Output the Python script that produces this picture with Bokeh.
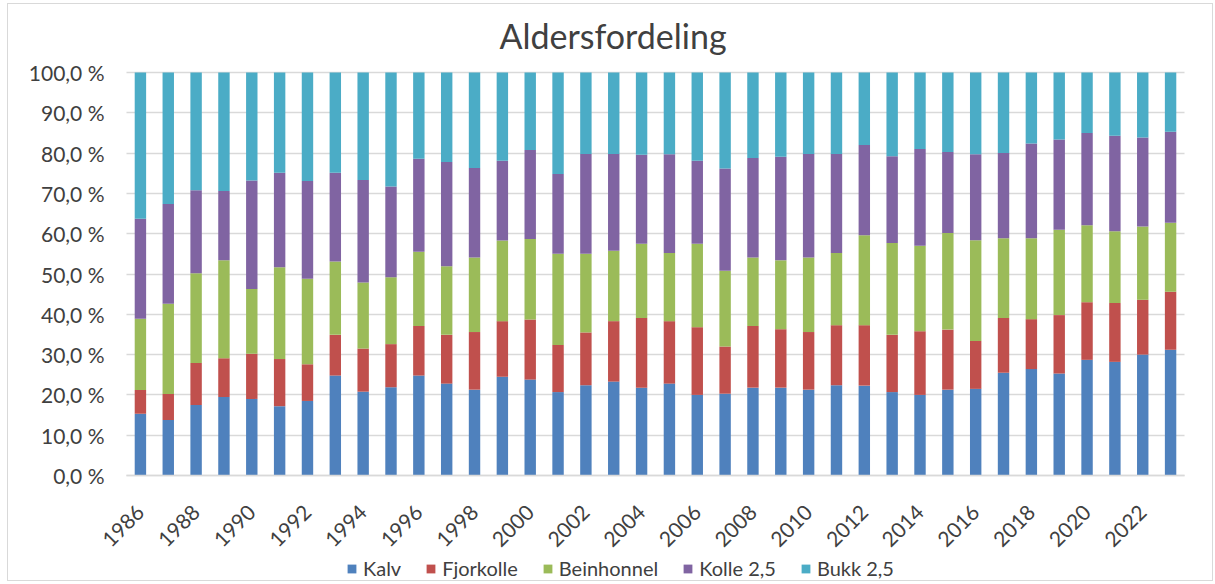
import math
from bokeh.plotting import figure
from bokeh.models import Range1d, FixedTicker, Legend, LegendItem, ColumnDataSource, Label
from bokeh.embed import file_html
from bokeh.resources import INLINE

years = list(range(1986, 2024))
series_names = ["Kalv", "Fjorkolle", "Beinhonnel", "Kolle 2,5", "Bukk 2,5"]
colors = ["#4F81BD", "#C0504D", "#9BBB59", "#8064A2", "#4BACC6"]

kalv = [15.3, 13.8, 17.5, 19.5, 19.0, 17.2, 18.5, 24.8, 20.8, 21.9,
        24.8, 22.8, 21.3, 24.5, 23.8, 20.7, 22.4, 23.3, 21.8, 22.8,
        20.0, 20.3, 21.8, 21.8, 21.3, 22.4, 22.3, 20.7, 20.0, 21.3,
        21.5, 25.5, 26.4, 25.3, 28.7, 28.2, 30.0, 31.2]
fjorkolle = [5.9, 6.4, 10.4, 9.6, 11.2, 11.7, 9.1, 10.1, 10.7, 10.7,
             12.3, 12.1, 14.3, 13.8, 14.9, 11.7, 13.1, 15.0, 17.3, 15.5,
             16.8, 11.7, 15.3, 14.5, 14.3, 14.9, 15.0, 14.2, 15.8, 14.9,
             11.9, 13.6, 12.4, 14.5, 14.3, 14.6, 13.6, 14.4]
beinhonnel = [17.7, 22.4, 22.3, 24.3, 16.1, 22.8, 21.2, 18.2, 16.4, 16.6,
              18.4, 17.0, 18.5, 20.0, 20.0, 22.6, 19.5, 17.5, 18.4, 16.9,
              20.7, 18.8, 17.0, 17.1, 18.5, 17.9, 22.3, 22.8, 21.2, 24.0,
              25.0, 19.8, 20.1, 21.2, 19.1, 17.8, 18.2, 17.1]
kolle = [24.8, 24.8, 20.6, 17.2, 26.9, 23.4, 24.3, 22.0, 25.4, 22.5,
         23.1, 25.9, 22.2, 19.8, 22.1, 19.8, 24.8, 24.0, 22.1, 24.5,
         20.6, 25.4, 24.7, 25.7, 25.7, 24.6, 22.4, 21.5, 24.0, 20.1,
         21.3, 21.1, 23.5, 22.4, 22.9, 23.7, 22.1, 22.6]
bukk = [36.3, 32.6, 29.2, 29.4, 26.8, 24.9, 26.9, 24.9, 26.7, 28.3,
        21.4, 22.2, 23.7, 21.9, 19.2, 25.2, 20.2, 20.2, 20.4, 20.3,
        21.9, 23.8, 21.2, 20.9, 20.2, 20.2, 18.0, 20.8, 19.0, 19.7,
        20.3, 20.0, 17.6, 16.6, 15.0, 15.7, 16.1, 14.7]

y_ticks = [0, 10, 20, 30, 40, 50, 60, 70, 80, 90, 100]
y_tick_labels = ["0,0 %", "10,0 %", "20,0 %", "30,0 %", "40,0 %", "50,0 %",
                 "60,0 %", "70,0 %", "80,0 %", "90,0 %", "100,0 %"]
x_ticks = list(range(1986, 2024, 2))
title_text = "Aldersfordeling"

FONT = "Lato"
TEXT = "#404040"
GRID = "#d9d9d9"

W, H = 1204, 576
# plot area inside the canvas (pixels)
PL, PR, PT, PB = 118, 1176, 68, 471
X0, X1 = years[0] - 0.5, years[-1] + 0.5
Y0, Y1 = 0.0, 100.0
kx = (PR - PL) / (X1 - X0)
ky = (PB - PT) / (Y1 - Y0)

source = ColumnDataSource(dict(year=years, Kalv=kalv, Fjorkolle=fjorkolle,
                               Beinhonnel=beinhonnel, **{"Kolle 2,5": kolle, "Bukk 2,5": bukk}))

# the frame covers the whole canvas; axes are pinned to the data edges
p = figure(width=W, height=H, output_backend="svg", toolbar_location=None,
           x_range=Range1d(X0 - PL / kx, X1 + (W - PR) / kx),
           y_range=Range1d(Y0 - (H - PB) / ky, Y1 + PT / ky),
           min_border_left=0, min_border_right=0, min_border_top=0, min_border_bottom=0,
           title=None)
p.styles = {"outline": "1px solid #d9d9d9", "margin-left": "8px", "margin-top": "4px"}
p.outline_line_color = None

renderers = p.vbar_stack(series_names, x="year", width=0.41, color=colors,
                         line_color=None, source=source)

# y axis
p.yaxis.fixed_location = X0
p.yaxis.ticker = FixedTicker(ticks=y_ticks)
p.yaxis.major_label_overrides = {t: l for t, l in zip(y_ticks, y_tick_labels)}
p.yaxis.axis_line_color = None
p.yaxis.major_tick_line_color = None
p.yaxis.minor_tick_line_color = None
p.yaxis.major_label_standoff = 16
p.yaxis.major_label_text_font = FONT
p.yaxis.major_label_text_font_size = "21px"
p.yaxis.major_label_text_color = TEXT

# x axis drawn at the 0 line
p.xaxis.fixed_location = Y0
p.xaxis.bounds = (X0, X1)
p.xaxis.ticker = FixedTicker(ticks=x_ticks)
p.xaxis.major_label_orientation = math.pi / 4
p.xaxis.axis_line_color = GRID
p.xaxis.axis_line_width = 1.5
p.xaxis.major_tick_line_color = None
p.xaxis.minor_tick_line_color = None
p.xaxis.major_label_standoff = 27
p.xaxis.major_label_text_font = FONT
p.xaxis.major_label_text_font_size = "21px"
p.xaxis.major_label_text_color = TEXT

p.xgrid.grid_line_color = None
p.ygrid.ticker = FixedTicker(ticks=y_ticks)
p.ygrid.cross_bounds = (X0, X1)
p.ygrid.grid_line_color = GRID
p.ygrid.grid_line_width = 1.5

# chart title
p.add_layout(Label(x=491, y=H - 31, x_units="screen", y_units="screen", text=title_text,
                   text_font=FONT, text_font_size="34px", text_color=TEXT,
                   text_align="left", text_baseline="alphabetic"))

legend = Legend(items=[LegendItem(label=n, renderers=[r]) for n, r in zip(series_names, renderers)],
                orientation="horizontal", location=(PL + 220, 0),
                glyph_width=11, glyph_height=11, label_standoff=6, spacing=24,
                padding=0, margin=0, label_height=20,
                label_text_font=FONT, label_text_font_size="20px", label_text_color=TEXT,
                background_fill_alpha=0, border_line_color=None)
p.add_layout(legend, "center")

open("out.html", "w").write(file_html(p, INLINE))
